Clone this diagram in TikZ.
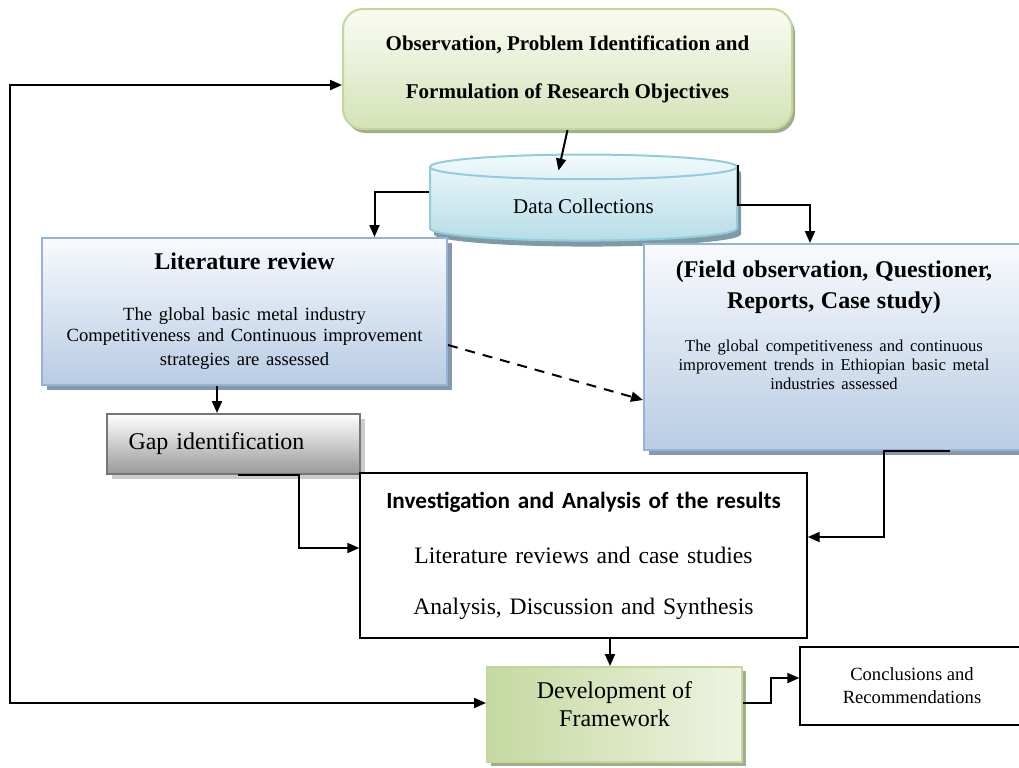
\documentclass[tikz,border=0pt]{standalone}
\usepackage{fontspec}
\setmainfont{Liberation Serif}
\newfontfamily\calibri{Carlito}
\usetikzlibrary{arrows.meta, positioning, shapes.geometric, shadows, calc}
\definecolor{obstop}{HTML}{FAFCF4}
\definecolor{obsbot}{HTML}{D4E2B6}
\definecolor{obsline}{HTML}{C3D69B}
\definecolor{obsshadow}{HTML}{A3AD8C}
\definecolor{littop}{HTML}{F8FAFD}
\definecolor{litbot}{HTML}{B8CCE4}
\definecolor{litline}{HTML}{95B3D7}
\definecolor{litshadow}{HTML}{8797AE}
\definecolor{cyltop}{HTML}{F2FAFC}
\definecolor{cylbot}{HTML}{B6DDE8}
\definecolor{cylline}{HTML}{92CDDC}
\definecolor{cylshadow}{HTML}{7E9AA4}
\definecolor{gapbot}{HTML}{999999}
\definecolor{gapline}{HTML}{767676}
\definecolor{gapshadow}{HTML}{CCCCCC}
\definecolor{devleft}{HTML}{C6D9A0}
\definecolor{devright}{HTML}{EEF3E2}

\begin{document}
\begin{tikzpicture}[
  x=0.5pt, y=-0.5pt,
  >={Triangle[length=6pt, width=5pt]},
  box/.style={draw, align=center, inner sep=2pt},
  obsbox/.style={box, draw=obsline, line width=1pt, rounded corners=10pt,
                 top color=obstop, bottom color=obsbot,
                 drop shadow={shadow xshift=1.5pt, shadow yshift=-2pt, fill=obsshadow, opacity=1}},
  datacyl/.style={cylinder, shape border rotate=90, aspect=0.16, draw=cylline, line width=1pt,
                  top color=cyltop, bottom color=cylbot,
                  drop shadow={shadow xshift=2pt, shadow yshift=-3pt, fill=cylshadow, opacity=1}},
  litbox/.style={box, draw=litline, line width=1pt, top color=littop, bottom color=litbot,
                 drop shadow={shadow xshift=2.5pt, shadow yshift=-2.5pt, fill=litshadow, opacity=1}},
  gapbox/.style={box, draw=gapline, line width=1pt, top color=white, bottom color=gapbot,
                 drop shadow={shadow xshift=2.5pt, shadow yshift=-2.5pt, fill=gapshadow, opacity=1}},
  devbox/.style={box, draw=obsline, line width=1pt, left color=devleft, right color=devright,
                 drop shadow={shadow xshift=2pt, shadow yshift=-2pt, fill=obsshadow, opacity=1}},
  plainbox/.style={box, draw=black, line width=0.7pt, fill=white},
  arr/.style={->, line width=1pt},
  ]
\useasboundingbox (0,0) rectangle (1019,767);

\node[obsbox, minimum width=224.5pt, minimum height=60pt,
      font=\fontsize{10.5}{24}\selectfont\bfseries] (obs) at (567.5,69)
  {Observation, Problem Identification and\\Formulation of Research Objectives};
\node[datacyl, minimum width=153.5pt, minimum height=43pt,
      font=\fontsize{10.5}{12}\selectfont] (data) at (583.5,206) {Data Collections};
\node[litbox, minimum width=202.5pt, minimum height=73.5pt, text width=195pt] (lit) at (244.5,311.5)
  {\fontsize{12}{14}\selectfont\bfseries Literature review\\[15pt]
   \fontsize{9.3}{10.5}\selectfont\mdseries The global basic metal industry\\
   Competitiveness and Continuous improvement\\strategies are assessed};
\node[litbox, minimum width=190pt, minimum height=103pt, text width=180pt] (field) at (834,347)
  {\fontsize{12}{15.5}\selectfont\bfseries (Field observation, Questioner,\\Reports, Case study)\\[12pt]
   \fontsize{8.3}{9.5}\selectfont\mdseries The global competitiveness and continuous\\
   improvement trends in Ethiopian basic metal\\industries assessed\\[10pt]\mbox{}};
\node[gapbox, minimum width=126.5pt, minimum height=30pt, text width=105pt, align=left,
      inner xsep=10.5pt, font=\fontsize{12}{14}\selectfont] (gap) at (233.5,444) {Gap identification};
\node[plainbox, minimum width=223.5pt, minimum height=82.5pt, text width=215pt,
      font=\fontsize{11.8}{25.5}\selectfont] (inv) at (583.5,555.5)
  {{\calibri\fontsize{11.6}{25.5}\selectfont\bfseries Investigation and Analysis of the results}\\[2pt]
   Literature reviews and case studies\\Analysis, Discussion and Synthesis};
\node[devbox, minimum width=127.5pt, minimum height=47.5pt,
      font=\fontsize{12}{14}\selectfont] (dev) at (614.5,714.5) {Development of\\Framework\\[-4pt]\mbox{}};
\node[plainbox, minimum width=112pt, minimum height=39pt,
      font=\fontsize{9.3}{11.5}\selectfont] (concl) at (912,686) {Conclusions and\\Recommendations};

\coordinate (back) at (10,400);

% connectors
\draw[arr] (obs.south) -- ($(data.north)+(-25,17)$);
\draw[arr] ([yshift=7pt]data.west) -| ([xshift=65pt]lit.north);
\draw[arr] ([yshift=20.5pt]data.east) -- ([yshift=0.5pt]data.east) -| ([xshift=-12pt]field.north);
\draw[arr, dash pattern=on 5pt off 4pt] ([yshift=-16.75pt]lit.east) -- ([yshift=-26.5pt]field.west);
\draw[arr] ([xshift=-13.75pt]lit.south) -- ([xshift=-13.75pt]lit.south |- gap.north);
\draw[arr] ([xshift=2pt]gap.south) -- ++(30.5pt,0) |- ([yshift=3.75pt]inv.west);
\draw[arr] ([xshift=58pt]field.south) -- ([xshift=25pt]field.south) |- ([yshift=9.25pt]inv.east);
\draw[arr] ([xshift=13.25pt]inv.south) -- ([xshift=13.25pt]inv.south |- dev.north);
\draw[arr] ([yshift=5.75pt]dev.east) -- ++(14pt,0) |- ([yshift=4pt]concl.west);
\draw[<->, line width=1pt] ([yshift=-8pt]obs.west) -| (back) |- ([yshift=5.75pt]dev.west);
\end{tikzpicture}
\end{document}
